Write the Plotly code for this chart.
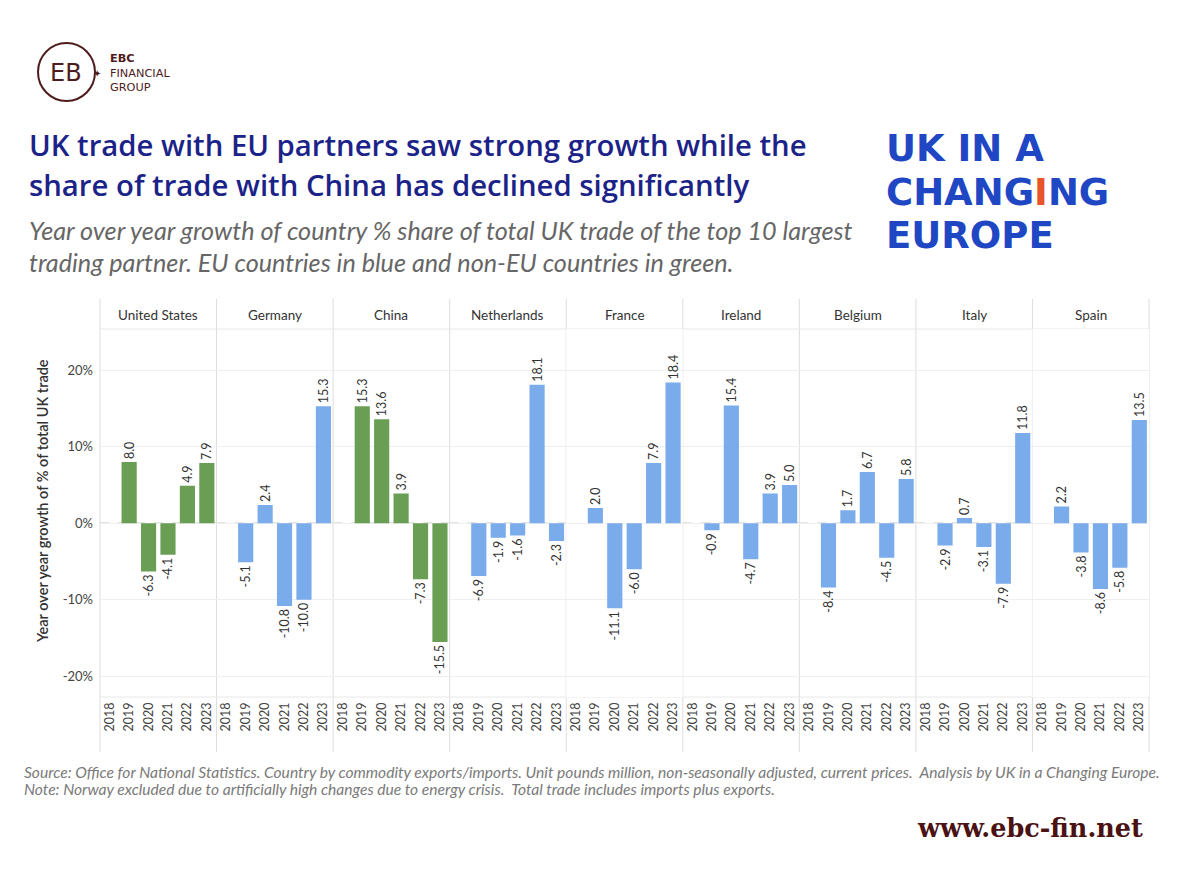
import plotly.graph_objects as go

# ---------------- data ----------------
years = ["2018", "2019", "2020", "2021", "2022", "2023"]
countries = ["United States", "Germany", "China", "Netherlands", "France",
             "Ireland", "Belgium", "Italy", "Spain"]
eu_member = [False, True, False, True, True, True, True, True, True]

growth_united_states = [None, 8.0, -6.3, -4.1, 4.9, 7.9]
growth_germany = [None, -5.1, 2.4, -10.8, -10.0, 15.3]
growth_china = [None, 15.3, 13.6, 3.9, -7.3, -15.5]
growth_netherlands = [None, -6.9, -1.9, -1.6, 18.1, -2.3]
growth_france = [None, 2.0, -11.1, -6.0, 7.9, 18.4]
growth_ireland = [None, -0.9, 15.4, -4.7, 3.9, 5.0]
growth_belgium = [None, -8.4, 1.7, 6.7, -4.5, 5.8]
growth_italy = [None, -2.9, 0.7, -3.1, -7.9, 11.8]
growth_spain = [None, 2.2, -3.8, -8.6, -5.8, 13.5]

series = [growth_united_states, growth_germany, growth_china, growth_netherlands,
          growth_france, growth_ireland, growth_belgium, growth_italy, growth_spain]

y_ticks = [-20, -10, 0, 10, 20]
y_tick_labels = ["-20%", "-10%", "0%", "10%", "20%"]

# ---------------- style ----------------
GREEN = "#6a9e55"
BLUE = "#7aabea"
FONT = "Lato"
W, H = 1170, 860
OX, OY = 8, 8


def px(x):
    return (x - OX) / W


def py(y):
    return 1 - (y - OY) / H


PANEL_L, PANEL_R = 100, 1149
PLOT_T, PLOT_B = 329, 697
STRIP_T = 299
n = len(countries)
pw = (PANEL_R - PANEL_L) / n

fig = go.Figure()
layout = {}
annotations = []
shapes = []


def note(text, x, y, size, color, family=FONT, xanchor="center", align="center", **font_kw):
    annotations.append(dict(text=text, x=px(x), y=py(y), xref="paper", yref="paper",
                            xanchor=xanchor, yanchor="middle", align=align, showarrow=False,
                            font=dict(size=size, color=color, family=family, **font_kw)))


for i, (c, vals) in enumerate(zip(countries, series)):
    ax = "" if i == 0 else str(i + 1)
    color = BLUE if eu_member[i] else GREEN
    labels = ["" if v is None else f"{v:.1f}" for v in vals]
    fig.add_trace(go.Bar(
        x=years, y=vals, marker_color=color, marker_line_width=0,
        text=labels, textposition="outside", textangle=-90,
        textfont=dict(size=12.5, color="#333333", family=FONT),
        constraintext="none", cliponaxis=False,
        xaxis="x" + ax, yaxis="y" + ax, showlegend=False, hoverinfo="x+y",
    ))
    x0 = PANEL_L + i * pw
    layout["xaxis" + ax] = dict(
        domain=[px(x0), px(x0 + pw)], anchor="y" + ax, type="category",
        categoryorder="array", categoryarray=years,
        tickangle=-90, tickfont=dict(size=12.5, color="#444444", family=FONT),
        showgrid=False, showline=False, zeroline=False, ticks="",
        ticklabelstandoff=2, fixedrange=True,
    )
    yax = dict(
        domain=[py(PLOT_B), py(PLOT_T)], anchor="x" + ax,
        range=[-22.7, 25.4], tickvals=y_ticks, ticktext=y_tick_labels,
        showgrid=True, gridcolor="#efefef", gridwidth=1, zeroline=False,
        showline=False, ticks="", showticklabels=(i == 0),
        tickfont=dict(size=13, color="#444444", family=FONT),
        ticklabelstandoff=6, fixedrange=True,
    )
    if i > 0:
        yax["matches"] = "y"
    layout["yaxis" + ax] = yax
    # zero dashed line
    shapes.append(dict(type="line", xref="x" + ax + " domain", yref="y" + ax,
                       x0=0, x1=1, y0=0, y1=0,
                       line=dict(color="#c8c8c8", width=1.5, dash="dash"),
                       layer="below"))
    # strip label
    note(c, x0 + pw / 2, 315, 13.5, "#333333")

# panel separators
for i in range(n + 1):
    xx = px(PANEL_L + i * pw)
    shapes.append(dict(type="line", xref="paper", yref="paper", x0=xx, x1=xx,
                       y0=py(752), y1=py(STRIP_T),
                       line=dict(color="#dddddd", width=1), layer="below"))
for yy in (PLOT_T, PLOT_B):
    shapes.append(dict(type="line", xref="paper", yref="paper",
                       x0=px(PANEL_L), x1=px(PANEL_R), y0=py(yy), y1=py(yy),
                       line=dict(color="#e8e8e8", width=1), layer="below"))

# y axis title
annotations.append(dict(text="Year over year growth of % of total UK trade",
                        x=px(42), y=py(501), xref="paper", yref="paper",
                        xanchor="center", yanchor="middle",
                        textangle=-90, showarrow=False,
                        font=dict(size=14.5, color="#333333", family=FONT, weight=600)))

# titles
TITLE_C = "#1c2388"
note("UK trade with EU partners saw strong growth while the", 27, 145, 29.3, TITLE_C,
     family="Open Sans", xanchor="left", weight=600)
note("share of trade with China has declined significantly", 27, 185, 29.3, TITLE_C,
     family="Open Sans", xanchor="left", weight=600)
SUB_C = "#666666"
note("Year over year growth of country % share of total UK trade of the top 10 largest",
     27, 230, 25.2, SUB_C, xanchor="left", style="italic")
note("trading partner. EU countries in blue and non-EU countries in green.",
     27, 262, 25.2, SUB_C, xanchor="left", style="italic")

# UK in a Changing Europe logo
LOGO_C = "#1f47c4"
ORANGE = "#e8552d"
for txt, yy in [("UK IN A", 148),
                ("CHANG<span style='color:%s'>I</span>NG" % ORANGE, 192),
                ("EUROPE", 236)]:
    note(txt, 884, yy, 37, LOGO_C, family="DejaVu Sans", xanchor="left", weight="bold")

# EBC logo
MAROON = "#4e1c1c"
shapes.append(dict(type="circle", xref="paper", yref="paper",
                   x0=px(38), x1=px(95), y0=py(101), y1=py(43),
                   line=dict(color=MAROON, width=2)))
note("EB", 66, 73, 24, MAROON, family="DejaVu Sans")
note("✦", 97, 73, 10, MAROON)
note("<b>EBC</b><br>FINANCIAL<br>GROUP", 108, 73, 11.3, MAROON,
     family="DejaVu Sans", xanchor="left", align="left")

# source notes
NOTE_C = "#7a7a7a"
note("Source: Office for National Statistics. Country by commodity exports/imports. Unit pounds million, non-seasonally adjusted, current prices.  Analysis by UK in a Changing Europe.",
     22, 772, 15.6, NOTE_C, xanchor="left", style="italic")
note("Note: Norway excluded due to artificially high changes due to energy crisis.  Total trade includes imports plus exports.",
     22, 789, 15.6, NOTE_C, xanchor="left", style="italic")
note("<b>www.ebc-fin.net</b>", 1145, 828, 25.5, "#4a1212", family="DejaVu Serif", xanchor="right")

fig.update_layout(
    width=W, height=H, margin=dict(l=0, r=0, t=0, b=0),
    paper_bgcolor="white", plot_bgcolor="white",
    bargap=0.22, font=dict(family=FONT),
    annotations=annotations, shapes=shapes, **layout,
)

fig.write_html("out.html")
